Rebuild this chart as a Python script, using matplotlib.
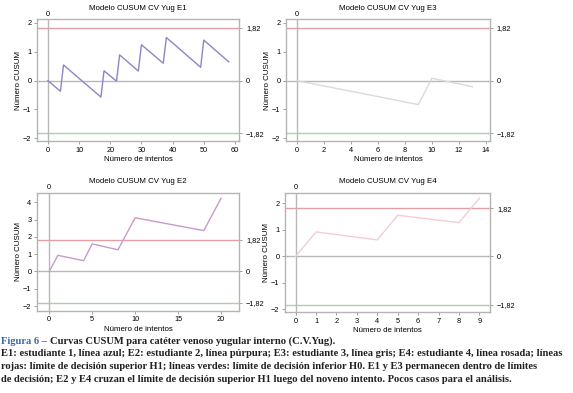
import matplotlib.pyplot as plt

plt.rcParams['font.family'] = ['Liberation Sans', 'DejaVu Sans']

# CUSUM curves (vertices)
e1_x = [0, 4, 5, 17, 18, 22, 23, 29, 30, 37, 38, 49, 50, 58]
e1_y = [0, -0.37, 0.54, -0.57, 0.34, -0.02, 0.89, 0.33, 1.24, 0.6, 1.49, 0.46, 1.4, 0.65]

e3_x = [0, 9, 10, 13]
e3_y = [0, -0.83, 0.08, -0.21]

e2_x = [0, 1, 4, 5, 8, 10, 18, 20]
e2_y = [0, 0.93, 0.62, 1.59, 1.25, 3.1, 2.36, 4.22]

e4_x = [0, 1, 4, 5, 8, 9]
e4_y = [0, 0.92, 0.62, 1.55, 1.27, 2.19]

h1 = 1.82
h0 = -1.82

panels = [
    # title, x, y, color, rect, xlim, ylim, xticks, yticks, title y (px)
    ("Modelo CUSUM CV Yug E1", e1_x, e1_y, "#8a86c8",
     [0.0646, 0.6412, 0.3525, 0.3104], (-3.5, 61.3), (-2.09, 2.13),
     range(0, 61, 10), range(-2, 3), 9),
    ("Modelo CUSUM CV Yug E3", e3_x, e3_y, "#dadada",
     [0.4991, 0.6412, 0.3560, 0.3104], (-0.8, 14.3), (-2.09, 2.13),
     range(0, 15, 2), range(-2, 3), 9),
    ("Modelo CUSUM CV Yug E2", e2_x, e2_y, "#c79ac8",
     [0.0646, 0.2094, 0.3525, 0.3003], (-1.43, 22.1), (-2.27, 4.55),
     range(0, 21, 5), range(-2, 5), 181),
    ("Modelo CUSUM CV Yug E4", e4_x, e4_y, "#f2cdd6",
     [0.4974, 0.2061, 0.3578, 0.3036], (-0.52, 9.52), (-2.1, 2.4),
     range(0, 10), range(-2, 3), 181),
]

W, H = 573, 393
fig = plt.figure(figsize=(W / 100, H / 100), dpi=100)
frame = "#b4b4b4"
lab = 5.7

for title, xs, ys, color, rect, xlim, ylim, xt, yt, ty in panels:
    ax = fig.add_axes(rect)
    ax.axhline(h1, color="#e3a0a4", lw=1.0)
    ax.axhline(h0, color="#a8d4a0", lw=1.0)
    ax.axhline(0, color="#b8b8b8", lw=1.0)
    ax.axvline(0, color="#b8b8b8", lw=1.0)
    ax.plot(xs, ys, color=color, lw=1.0)
    ax.set_xlim(xlim)
    ax.set_ylim(ylim)
    ax.set_xticks(list(xt))
    ax.set_yticks(list(yt))
    ax.set_yticklabels([str(v).replace("-", "\u2212") for v in yt])
    for s in ax.spines.values():
        s.set_color(frame)
        s.set_linewidth(1.0)
    ax.tick_params(labelsize=5.3, length=2, width=0.6, color="#909090", pad=2)
    ax.set_xlabel("Número de intentos", fontsize=lab, labelpad=2)
    ax.set_ylabel("Número CUSUM", fontsize=lab, labelpad=1)

    cx = rect[0] + rect[2] / 2
    fig.text(cx, 1 - ty / H, title, fontsize=lab, ha="center", va="center")

    top = ax.secondary_xaxis("top")
    top.set_xticks([0])
    top.set_xticklabels(["0"])
    top.tick_params(labelsize=5.3, length=0, pad=1)
    top.spines["top"].set_visible(False)

    right = ax.secondary_yaxis("right")
    right.set_yticks([h0, 0, h1])
    right.set_yticklabels(["\u22121,82", "0", "1,82"])
    right.tick_params(labelsize=5.3, length=2, width=0.6, color="#909090", pad=3)
    right.spines["right"].set_visible(False)

# caption
lines = [
    "E1: estudiante 1, línea azul; E2: estudiante 2, línea púrpura; E3: estudiante 3, línea gris; E4: estudiante 4, línea rosada; líneas",
    "rojas: límite de decisión superior H1; líneas verdes: límite de decisión inferior H0. E1 y E3 permanecen dentro de límites",
    "de decisión; E2 y E4 cruzan el límite de decisión superior H1 luego del noveno intento. Pocos casos para el análisis.",
]
dark = "#231f20"
cap = dict(family="Liberation Serif", fontweight="bold")

# fit the longest caption line to the figure width
probe = fig.text(0, 0, lines[0], fontsize=7.0, **cap)
fig.canvas.draw()
fs = 7.0 * 566 / probe.get_window_extent().width
probe.remove()

rows = [341, 354, 366.5, 379]
t1 = fig.text(0.002, 1 - rows[0] / H, "Figura 6 \u2013 ", color="#3a6aa8",
              va="center", fontsize=fs, **cap)
fig.canvas.draw()
x2 = t1.get_window_extent().x1 / fig.bbox.width
fig.text(x2, 1 - rows[0] / H,
         "Curvas CUSUM para catéter venoso yugular interno (C.V.Yug).",
         color=dark, va="center", fontsize=fs, **cap)
for i, line in enumerate(lines):
    fig.text(0.002, 1 - rows[i + 1] / H, line, color=dark, va="center",
             fontsize=fs, **cap)

fig.savefig("out.png", dpi=100)
